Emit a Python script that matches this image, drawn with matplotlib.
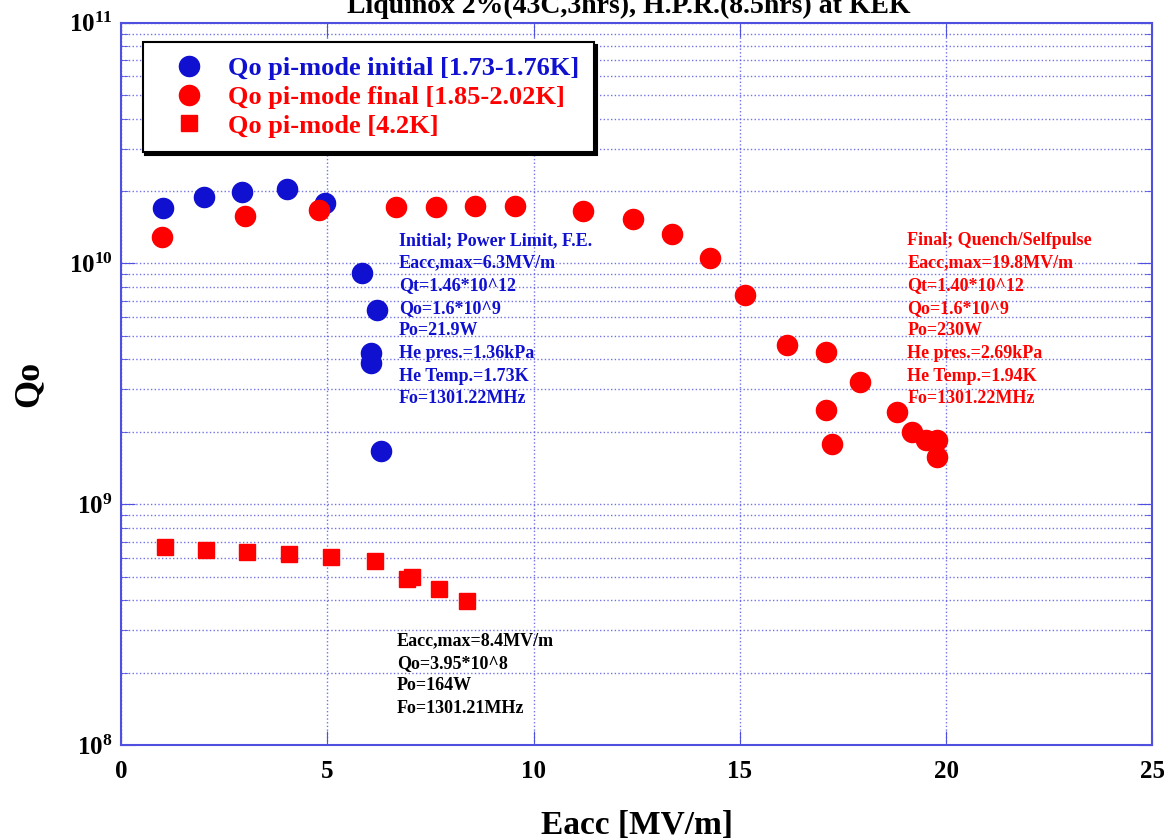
import matplotlib
matplotlib.use("Agg")
import matplotlib.pyplot as plt
from matplotlib.ticker import LogLocator, MultipleLocator, NullFormatter

plt.rcParams['font.family'] = ['Liberation Serif', 'DejaVu Serif']
plt.rcParams['font.weight'] = 'bold'

# Qo pi-mode initial [1.73-1.76K]
init_e = [1.02, 2.01, 2.93, 4.03, 4.95, 5.84, 6.21, 6.06, 6.06, 6.30]
init_q = [1.70e10, 1.89e10, 1.98e10, 2.04e10, 1.79e10, 9.13e9, 6.41e9, 4.25e9, 3.86e9, 1.66e9]

# Qo pi-mode final [1.85-2.02K]
final_e = [1.00, 3.00, 4.80, 6.67, 7.64, 8.58, 9.55, 11.20, 12.42, 13.36, 14.28,
           15.13, 16.15, 17.10, 17.92, 17.10, 17.24, 18.82, 19.18, 19.52, 19.79, 19.79]
final_q = [1.29e10, 1.58e10, 1.67e10, 1.72e10, 1.72e10, 1.73e10, 1.73e10, 1.65e10,
           1.53e10, 1.33e10, 1.05e10, 7.39e9, 4.58e9, 4.29e9, 3.22e9, 2.46e9, 1.78e9,
           2.42e9, 2.00e9, 1.85e9, 1.85e9, 1.57e9]

# Qo pi-mode [4.2K]
warm_e = [1.07, 2.06, 3.06, 4.07, 5.09, 6.16, 6.94, 7.06, 7.71, 8.39]
warm_q = [6.62e8, 6.44e8, 6.31e8, 6.19e8, 6.02e8, 5.80e8, 4.88e8, 4.97e8, 4.43e8, 3.98e8]

blue = '#1010d0'
red = '#ff0000'
axis_col = '#5050e0'

fig = plt.figure(figsize=(11.64, 8.4), dpi=100)
ax = fig.add_axes([0.104, 0.113, 0.886, 0.860])

ax.plot(init_e, init_q, 'o', color=blue, markersize=14.5, linestyle='none',
        label='Qo pi-mode initial [1.73-1.76K]', zorder=3)
ax.plot(final_e, final_q, 'o', color=red, markersize=14.5, linestyle='none',
        label='Qo pi-mode final [1.85-2.02K]', zorder=4)
ax.plot(warm_e, warm_q, 's', color=red, markersize=11.5, linestyle='none',
        label='Qo pi-mode [4.2K]', zorder=3)

ax.set_yscale('log')
ax.set_xlim(0, 25)
ax.set_ylim(1e8, 1e11)
ax.xaxis.set_major_locator(MultipleLocator(5))
ax.yaxis.set_major_locator(LogLocator(base=10))
ax.yaxis.set_minor_locator(LogLocator(base=10, subs=range(2, 10)))
ax.yaxis.set_minor_formatter(NullFormatter())

ax.grid(True, which='major', color=axis_col, linestyle=':', linewidth=1.0, alpha=0.8)
ax.grid(True, which='minor', axis='y', color=axis_col, linestyle=':', linewidth=1.0, alpha=0.8)
for s in ax.spines.values():
    s.set_color(axis_col)
    s.set_linewidth(1.5)
ax.tick_params(which='both', direction='in', colors=axis_col, top=True, right=True,
               labelcolor='black', labelsize=18)
ax.tick_params(which='major', length=10)
ax.tick_params(which='minor', length=5)
ax.tick_params(axis='y', which='major', pad=6)
ax.tick_params(axis='x', which='major', pad=11)

ax.set_xlabel('Eacc [MV/m]', fontsize=24, fontweight='bold')
ax.xaxis.set_label_coords(0.5, -0.09)
ax.set_ylabel('Qo', fontsize=26, fontweight='bold')
ax.yaxis.set_label_coords(-0.073, 0.5)

fig.text(0.540, 1.0 - 13 / 840, 'Liquinox 2%(43C,3hrs), H.P.R.(8.5hrs) at KEK',
         ha='center', va='baseline', fontsize=20, fontweight='bold')

leg = ax.legend(loc='upper left', bbox_to_anchor=(0.021, 0.973), fontsize=19,
                frameon=True, fancybox=False, shadow={'color': 'black', 'alpha': 1.0},
                edgecolor='black', handlelength=2.4, handletextpad=0.3, borderpad=0.55,
                labelspacing=0.2, borderaxespad=0)
leg.get_frame().set_linewidth(1.5)
for t, c in zip(leg.get_texts(), [blue, red, red]):
    t.set_color(c)

ax.text(6.74, 1.35e10, 'Initial; Power Limit, F.E.\nEacc,max=6.3MV/m\nQt=1.46*10^12\n'
        'Qo=1.6*10^9\nPo=21.9W\nHe pres.=1.36kPa\nHe Temp.=1.73K\nFo=1301.22MHz',
        color=blue, fontsize=13, fontweight='bold', va='top', ha='left', linespacing=1.43)
ax.text(19.06, 1.35e10, 'Final; Quench/Selfpulse\nEacc,max=19.8MV/m\nQt=1.40*10^12\n'
        'Qo=1.6*10^9\nPo=230W\nHe pres.=2.69kPa\nHe Temp.=1.94K\nFo=1301.22MHz',
        color=red, fontsize=13, fontweight='bold', va='top', ha='left', linespacing=1.43)
ax.text(6.69, 2.95e8, 'Eacc,max=8.4MV/m\nQo=3.95*10^8\nPo=164W\nFo=1301.21MHz',
        color='black', fontsize=13, fontweight='bold', va='top', ha='left', linespacing=1.43)

fig.savefig('out.png', dpi=100)
